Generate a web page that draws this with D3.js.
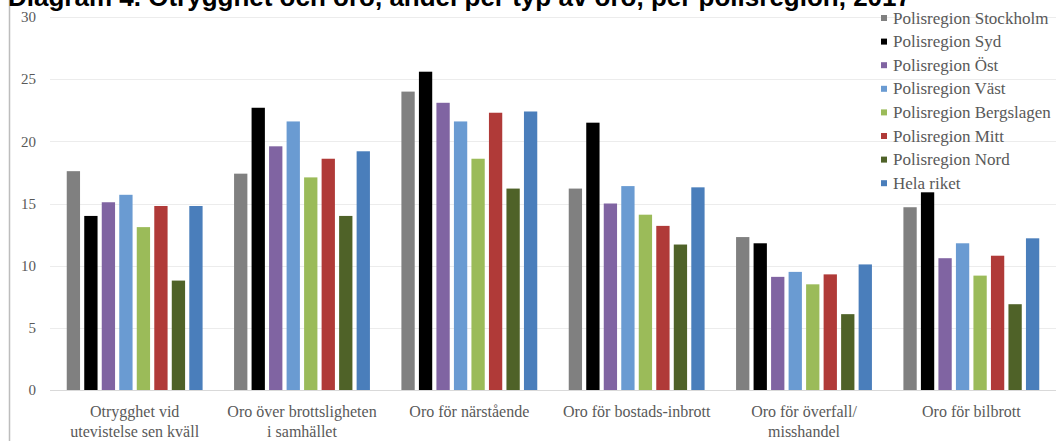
<!DOCTYPE html>
<html><head><meta charset="utf-8">
<script src="https://cdn.jsdelivr.net/npm/d3@7"></script>
<style>html,body{margin:0;padding:0;background:#fff;overflow:hidden}</style>
</head><body>
<svg id="c" width="1056" height="441"></svg>
<script>
const categories = [
  ["Otrygghet vid", "utevistelse sen kväll"],
  ["Oro över brottsligheten", "i samhället"],
  ["Oro för närstående"],
  ["Oro för bostads-inbrott"],
  ["Oro för överfall/", "misshandel"],
  ["Oro för bilbrott"]
];
const seriesNames = ["Polisregion Stockholm","Polisregion Syd","Polisregion Öst","Polisregion Väst","Polisregion Bergslagen","Polisregion Mitt","Polisregion Nord","Hela riket"];
const stockholm  = [17.6, 17.4, 24.0, 16.2, 12.3, 14.7];
const syd        = [14.0, 22.7, 25.6, 21.5, 11.8, 15.9];
const ost        = [15.1, 19.6, 23.1, 15.0, 9.1, 10.6];
const vast       = [15.7, 21.6, 21.6, 16.4, 9.5, 11.8];
const bergslagen = [13.1, 17.1, 18.6, 14.1, 8.5, 9.2];
const mitt       = [14.8, 18.6, 22.3, 13.2, 9.3, 10.8];
const nord       = [8.8, 14.0, 16.2, 11.7, 6.1, 6.9];
const hela       = [14.8, 19.2, 22.4, 16.3, 10.1, 12.2];
const yTicks = [0, 5, 10, 15, 20, 25, 30];
const colors = ["#808080","#000000","#8064a2","#6a9bd2","#9bbb59","#b03a38","#4f6228","#4a7ebb"];
const titleText = "Diagram 4. Otrygghet och oro, andel per typ av oro, per polisregion, 2017";

const values = [stockholm, syd, ost, vast, bergslagen, mitt, nord, hela];
const catKeys = categories.map(c => c.join(" "));

const svg = d3.select("#c");
const serif = "'Liberation Serif','Times New Roman',serif";

const y = d3.scaleLinear().domain([0, 30]).range([390, 17]);
const x0 = d3.scaleBand().domain(catKeys).range([51, 1055]).paddingInner(0.163).paddingOuter(0.0815);
const x1 = d3.scaleBand().domain(seriesNames).range([0, x0.bandwidth()]).paddingInner(0.24).paddingOuter(0.12);

// left border line
svg.append("line").attr("x1", 9.5).attr("x2", 9.5).attr("y1", 0).attr("y2", 441)
  .attr("stroke", "#bdbdbd").attr("stroke-width", 1.5);

// gridlines
svg.append("g").selectAll("line").data(yTicks).join("line")
  .attr("x1", 50).attr("x2", 1056)
  .attr("y1", d => Math.round(y(d)) + 0.5).attr("y2", d => Math.round(y(d)) + 0.5)
  .attr("stroke", d => d === 0 ? "#d9d9d9" : "#ececec").attr("stroke-width", 1);

// y axis labels
const yAxis = d3.axisLeft(y).tickValues(yTicks).tickSize(0).tickPadding(0);
const gy = svg.append("g").attr("transform", "translate(36,0)").call(yAxis);
gy.select(".domain").remove();
gy.selectAll("text").attr("font-family", serif).attr("font-size", 15).attr("fill", "#595959");

// bars
const groups = svg.append("g").selectAll("g").data(catKeys).join("g")
  .attr("transform", d => `translate(${x0(d)},0)`);
groups.selectAll("rect")
  .data((d, i) => seriesNames.map((s, j) => ({s, j, v: values[j][i]})))
  .join("rect")
  .attr("x", d => x1(d.s))
  .attr("width", x1.bandwidth())
  .attr("y", d => y(d.v))
  .attr("height", d => y(0) - y(d.v))
  .attr("fill", d => colors[d.j]);

// category labels
const cl = svg.append("g").selectAll("text").data(categories).join("text")
  .attr("x", (d, i) => x0(catKeys[i]) + x0.bandwidth() / 2)
  .attr("y", 417)
  .attr("text-anchor", "middle")
  .attr("font-family", serif).attr("font-size", 16).attr("fill", "#595959");
cl.selectAll("tspan").data(d => d).join("tspan")
  .attr("x", function() { return d3.select(this.parentNode).attr("x"); })
  .attr("dy", (d, i) => i === 0 ? 0 : 20)
  .text(d => d);

// legend
const leg = svg.append("g").attr("transform", "translate(881,0)");
const li = leg.selectAll("g").data(seriesNames).join("g")
  .attr("transform", (d, i) => `translate(0,${18 + i * 23.6})`);
li.append("rect").attr("x", 0).attr("y", -3).attr("width", 6).attr("height", 6)
  .attr("fill", (d, i) => colors[i]);
li.append("text").attr("x", 12).attr("y", 5.5)
  .attr("font-family", serif).attr("font-size", 17).attr("fill", "#595959")
  .text(d => d);

// title (cropped at top, as in the reference)
svg.append("text").attr("x", 8).attr("y", 6)
  .attr("font-family", "'Liberation Sans',Arial,sans-serif").attr("font-weight", "bold")
  .attr("font-size", 26).attr("fill", "#000").text(titleText);
</script>
</body></html>
